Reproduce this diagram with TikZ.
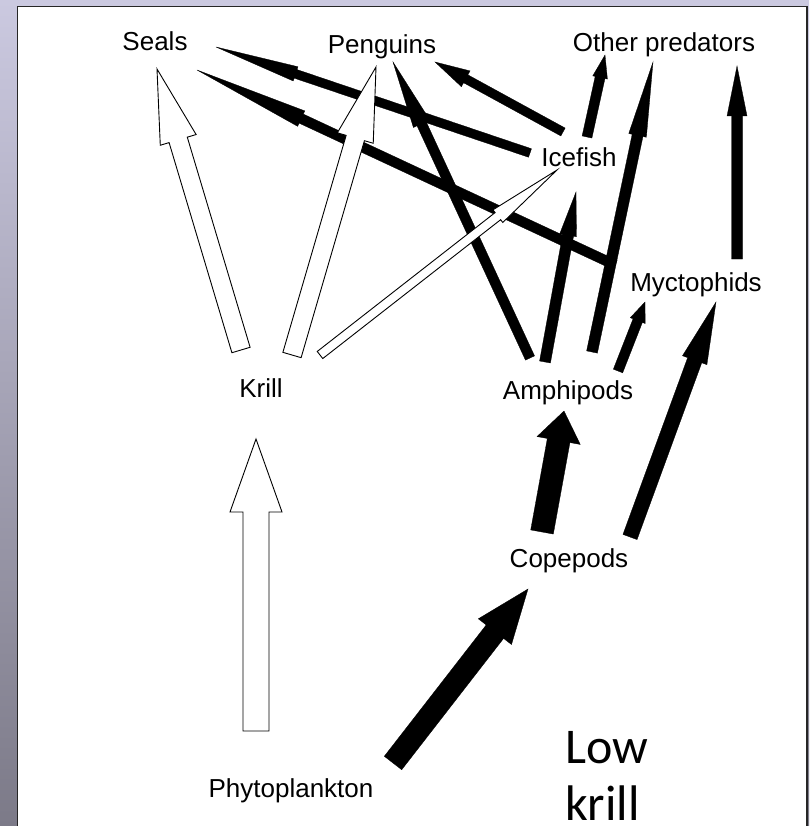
\documentclass[tikz,border=0pt]{standalone}
\usepackage{fontspec}
\setmainfont{Liberation Sans}
\newfontfamily\lowfont{Carlito}
\usetikzlibrary{calc}
\definecolor{bgtop}{HTML}{CBC9E0}
\definecolor{bgbot}{HTML}{7C7A88}
% #1 start, #2 tip, #3 shaft half width, #4 head half width, #5 head length, #6 style
\newcommand\flowarrow[6]{%
  \coordinate (fa-h) at ($(#2)!#5!(#1)$);
  \draw[#6] ($(#1)!#3!90:(#2)$) -- ($(fa-h)!#3!-90:(#1)$) -- ($(fa-h)!#4!-90:(#1)$)
    -- (#2) -- ($(fa-h)!#4!90:(#1)$) -- ($(fa-h)!#3!90:(#1)$) -- ($(#1)!#3!-90:(#2)$) -- cycle;
}
\begin{document}
\begin{tikzpicture}[x=1pt,y=-1pt,
  lbl/.style={font=\fontsize{26}{30}\selectfont, inner sep=0pt, anchor=base},
  bigtxt/.style={font=\lowfont\fontsize{50}{57}\selectfont, inner sep=0pt, anchor=base west},
  openarrow/.style={draw=black, fill=white, line width=0.9pt, line join=miter},
  filledarrow/.style={fill=black, draw=black, line width=0.3pt, line join=miter}]
\useasboundingbox (0,0) rectangle (809,826);
\shade[top color=bgtop, bottom color=bgbot] (0,0) rectangle (809,826);
\draw[fill=white, draw=black!85, line width=1.5pt] (17.5,6.5) rectangle (807,840);

% labels
\node[lbl] (seals) at (155,51) {Seals};
\node[lbl] (penguins) at (382,54) {Penguins};
\node[lbl] (other) at (664,52) {Other predators};
\node[lbl] (icefish) at (579,167) {Icefish};
\node[lbl] (myct) at (696,291) {Myctophids};
\node[lbl] (amph) at (568,399) {Amphipods};
\node[lbl] (cope) at (569,567) {Copepods};
\node[lbl] (krill) at (261,397) {Krill};
\node[lbl] (phyto) at (291,797) {Phytoplankton};
\node[bigtxt] (low) at (565,763) {Low};
\node[bigtxt] (lowkrill) at (565,820) {krill};

% arrow end points
\coordinate (pk-s) at (256,731);  \coordinate (pk-t) at (256,439);
\coordinate (ks-s) at (241,350);  \coordinate (ks-t) at (157,69);
\coordinate (kp-s) at (292,355);  \coordinate (kp-t) at (376,67);
\coordinate (ki-s) at (320,355);  \coordinate (ki-t) at (557,170);
\coordinate (is-s) at (530,153);  \coordinate (is-t) at (216,47);
\coordinate (ms-s) at (615,265);  \coordinate (ms-t) at (197,70);
\coordinate (ip-s) at (563,132);  \coordinate (ip-t) at (435,62);
\coordinate (ap-s) at (530,358);  \coordinate (ap-t) at (393,62);
\coordinate (io-s) at (587,137);  \coordinate (io-t) at (605,55);
\coordinate (ao-s) at (592,352);  \coordinate (ao-t) at (653,62);
\coordinate (mo-s) at (737,259);  \coordinate (mo-t) at (737,66);
\coordinate (ai-s) at (545,362);  \coordinate (ai-t) at (576,192);
\coordinate (am-s) at (618,371);  \coordinate (am-t) at (645,302);
\coordinate (ca-s) at (542,532);  \coordinate (ca-t) at (564,411);
\coordinate (cm-s) at (630,537);  \coordinate (cm-t) at (716,302);
\coordinate (pc-s) at (393,763);  \coordinate (pc-t) at (528,589);

% black arrows
\flowarrow{is-s}{is-t}{4.5pt}{7.5pt}{84pt}{filledarrow}
\flowarrow{ms-s}{ms-t}{5pt}{8.5pt}{115pt}{filledarrow}
\flowarrow{ip-s}{ip-t}{4.5pt}{9pt}{35pt}{filledarrow}
\flowarrow{ap-s}{ap-t}{5pt}{9pt}{68pt}{filledarrow}
\flowarrow{io-s}{io-t}{5pt}{7.5pt}{23pt}{filledarrow}
\flowarrow{ao-s}{ao-t}{5.5pt}{9pt}{75pt}{filledarrow}
\flowarrow{mo-s}{mo-t}{5.5pt}{10pt}{50pt}{filledarrow}
\flowarrow{ai-s}{ai-t}{5.5pt}{8.5pt}{44pt}{filledarrow}
\flowarrow{am-s}{am-t}{5pt}{8pt}{20pt}{filledarrow}
\flowarrow{ca-s}{ca-t}{11.5pt}{22pt}{30pt}{filledarrow}
\flowarrow{cm-s}{cm-t}{7.5pt}{13pt}{62pt}{filledarrow}
\flowarrow{pc-s}{pc-t}{11pt}{21pt}{54pt}{filledarrow}

% white arrows
\flowarrow{pk-s}{pk-t}{13pt}{26pt}{73pt}{openarrow}
\flowarrow{ks-s}{ks-t}{9.5pt}{18.7pt}{74pt}{openarrow}
\flowarrow{kp-s}{kp-t}{9.5pt}{18.7pt}{74pt}{openarrow}
\flowarrow{ki-s}{ki-t}{4.5pt}{8pt}{75pt}{openarrow}
\end{tikzpicture}
\end{document}
